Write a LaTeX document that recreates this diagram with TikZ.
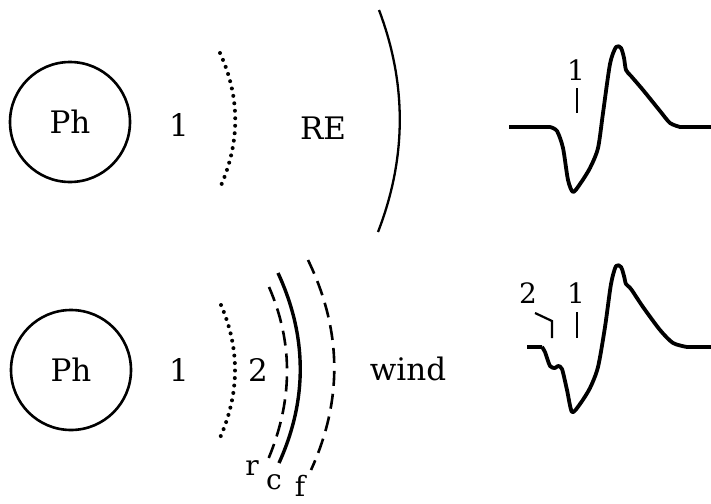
\documentclass[tikz,border=0pt]{standalone}
\usepackage{fontspec}
\setmainfont{DejaVu Serif}
\begin{document}
\begin{tikzpicture}[x=1pt,y=-1pt,
  lbl/.style={inner sep=0pt,font=\fontsize{31}{36}\selectfont},
  small/.style={inner sep=0pt,font=\fontsize{28}{32}\selectfont},
  ring/.style={draw,circle,line width=2.6pt,minimum size=120pt,inner sep=0pt,font=\fontsize{31}{36}\selectfont},
  dotarc/.style={line width=4pt,line cap=round,dash pattern=on 0pt off 7.5pt},
  dasharc/.style={line width=2.6pt,dash pattern=on 15pt off 8pt},
  solidarc/.style={line width=2.3pt},
  thickarc/.style={line width=3.4pt},
  wave/.style={line width=3.8pt,line join=round},
  tick/.style={line width=2.2pt}]
\useasboundingbox (0,0) rectangle (711,503);

% ---------- top row ----------
\node[ring] (ph1) at (70,122) {Ph};
\node[lbl] (one1) at (179,125) {1};
\coordinate (d1a) at (220,53);
\coordinate (d1b) at (219,190);
\draw[dotarc] (d1a) .. controls (240.7,98.3) and (240.3,144) .. (d1b);
\node[lbl] (re) at (323,128) {RE};
\coordinate (s1a) at (379,10);
\coordinate (s1b) at (378,232);
\draw[solidarc] (s1a) .. controls (407,84) and (406.7,158) .. (s1b);

% top waveform
\draw[wave] (509,127) -- (550,127)
  plot[smooth,tension=0.45] coordinates {(550,127) (557,131) (563,148) (568,180) (573,192) (580,184) (590,168) (598,148) (603,113) (610,64) (616,47) (621,48) (624,58) (626,70) (631,76) (643,90) (660,111) (670,123) (680,127)}
  -- (711,127);
\node[small] (w1one) at (576,70) {1};
\coordinate (t1a) at (577,88);
\coordinate (t1b) at (577,113);
\draw[tick] (t1a) -- (t1b);

% ---------- bottom row ----------
\node[ring] (ph2) at (71,370) {Ph};
\node[lbl] (one2) at (179,370) {1};
\coordinate (d2a) at (221,305);
\coordinate (d2b) at (219,440);
\draw[dotarc] (d2a) .. controls (240.3,349.7) and (239.7,394.7) .. (d2b);
\node[lbl] (two) at (258,370) {2};
\coordinate (ra) at (269,287);
\coordinate (rb) at (267,462);
\draw[dasharc] (ra) .. controls (293.7,343.7) and (293,402) .. (rb);
\coordinate (ca) at (278,273);
\coordinate (cb) at (279,463);
\draw[thickarc] (ca) .. controls (307.3,336.3) and (307.7,399.7) .. (cb);
\coordinate (fa) at (308,260);
\coordinate (fb) at (311,470);
\draw[dasharc] (fa) .. controls (342,330) and (343,400) .. (fb);
\node[small] (rl) at (252,468) {r};
\node[small] (cl) at (274,482) {c};
\node[small] (fl) at (300,486) {f};
\node[lbl] (wind) at (408,369) {wind};

% bottom waveform
\draw[wave] (527,347) -- (542,347)
  plot[smooth,tension=0.45] coordinates {(542,347) (545,352) (550,366) (555,368) (558,366) (562,369) (567,390) (572,412) (580,404) (590,388) (598,367) (605,327) (611,284) (616,266) (621,267) (624,276) (626,284) (631,289) (643,307) (660,330) (673,343) (687,347)}
  -- (711,347);
\node[small] (w2two) at (528,293) {2};
\node[small] (w2one) at (576,293) {1};
\coordinate (t2a) at (577,312);
\coordinate (t2b) at (577,338);
\draw[tick] (t2a) -- (t2b);
\coordinate (l2a) at (535,313);
\coordinate (l2b) at (552,321);
\coordinate (l2c) at (552,338);
\draw[tick] (l2a) -- (l2b) -- (l2c);
\end{tikzpicture}
\end{document}
